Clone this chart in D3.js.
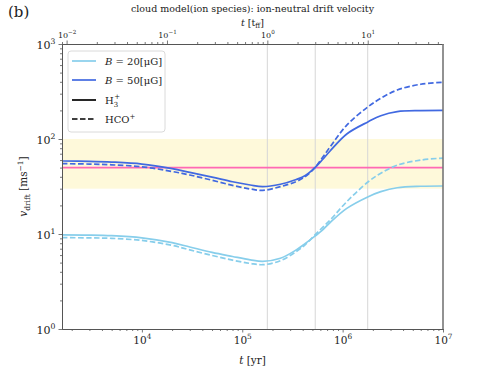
<!DOCTYPE html>
<html><head><meta charset="utf-8">
<script src="https://cdn.jsdelivr.net/npm/d3@7"></script>
<style>body{margin:0;background:#fff}svg{display:block}text{font-family:"DejaVu Serif",serif;fill:#222}</style>
</head><body><svg id="c" width="493" height="370"></svg>
<script>
// ---- data ----
const times  = [1.6e3, 3e3, 5e3, 1e4, 2e4, 3e4, 5e4, 8e4, 1.2e5, 1.6e5, 2.4e5, 3.45e5, 4.25e5, 5.3e5, 6.25e5, 7.5e5, 1.1e6, 1.8e6, 2.4e6, 3.5e6, 6e6, 1e7];
const b50H3  = [58.7, 58.2, 57.2, 54.5, 48.7, 44.5, 39.7, 35.5, 32.8, 31.5, 33.4, 37.5, 41.3, 50.0, 60.1, 74.8, 113, 152, 176, 194, 199, 200];
const b50HCO = [55.0, 54.5, 53.5, 51.0, 45.5, 41.8, 36.8, 32.5, 29.8, 28.8, 31.5, 35.7, 40.3, 50.0, 63.0, 82.4, 140, 219, 268, 328, 377, 395];
const b20H3  = [9.8, 9.75, 9.6, 9.1, 8.1, 7.3, 6.4, 5.8, 5.35, 5.15, 5.55, 6.8, 7.95, 9.5, 10.9, 13.2, 18.6, 24.7, 27.9, 30.7, 31.8, 32.0];
const b20HCO = [9.15, 9.1, 9.0, 8.55, 7.6, 6.8, 5.95, 5.3, 4.9, 4.75, 5.24, 6.54, 7.75, 9.77, 11.6, 14.0, 21.9, 35.5, 43.6, 53.0, 60.0, 63.0];
const tff = 1.778e5;            // free-fall time [yr]
const tffMarks = [1, 3, 10];    // vertical lines in units of t_ff
const band = [30, 100];
const refLine = 50;
const xDomain = [1.6e3, 1e7];
const yDomain = [1, 1000];
const xMajor = [1e4, 1e5, 1e6, 1e7];
const xMajorExp = ["4", "5", "6", "7"];
const topMajor = [1e-2, 1e-1, 1, 10];
const topMajorExp = ["\u22122", "\u22121", "0", "1"];
const yMajor = [1, 10, 100, 1000];
const yMajorExp = ["0", "1", "2", "3"];
const series = [
  {name:"B20", vals:b20H3, color:"#87ceeb", dash:null},
  {name:"B20", vals:b20HCO, color:"#87ceeb", dash:"5.5,2.5"},
  {name:"B50", vals:b50H3, color:"#4169e1", dash:null},
  {name:"B50", vals:b50HCO, color:"#4169e1", dash:"5.5,2.5"}
];

// ---- layout ----
const L=62, R=443, T=44, B=329;
const svg = d3.select("#c");
const x = d3.scaleLog().domain(xDomain).range([L,R]);
const xTop = d3.scaleLog().domain([xDomain[0]/tff, xDomain[1]/tff]).range([L,R]);
const y = d3.scaleLog().domain(yDomain).range([B,T]);

function minors(dom){
  const out=[];
  const lo=Math.floor(Math.log10(dom[0])), hi=Math.ceil(Math.log10(dom[1]));
  for(let e=lo;e<=hi;e++) for(let k=2;k<=9;k++){const v=k*Math.pow(10,e); if(v>=dom[0]&&v<=dom[1]) out.push(v);}
  return out;
}

// band & lines
svg.append("rect").attr("x",L).attr("width",R-L).attr("y",y(band[1])).attr("height",y(band[0])-y(band[1])).attr("fill","#fef9da");
svg.selectAll(".vl").data(tffMarks).enter().append("line")
  .attr("x1",d=>x(d*tff)).attr("x2",d=>x(d*tff)).attr("y1",T).attr("y2",B)
  .attr("stroke","#d6d6d6").attr("stroke-width",1);
svg.append("line").attr("x1",L).attr("x2",R).attr("y1",y(refLine)).attr("y2",y(refLine))
  .attr("stroke","#ff69b4").attr("stroke-width",1.8);

const line = d3.line().x((d,i)=>x(times[i])).y(d=>y(d)).curve(d3.curveCatmullRom.alpha(0.5));
series.forEach(s=>{
  svg.append("path").attr("d",line(s.vals)).attr("fill","none").attr("stroke",s.color)
    .attr("stroke-width",1.7).attr("stroke-dasharray",s.dash);
});

// axes
const axCol="#555";
function styleAxis(g){
  g.select(".domain").attr("stroke",axCol).attr("stroke-width",1);
  g.selectAll(".tick line").attr("stroke",axCol).attr("stroke-width",0.8);
}
function supLabels(g, exps, size, dy){
  g.selectAll(".tick text").each(function(d,i){
    const t=d3.select(this); t.text(null).attr("font-size",size).attr("fill","#222");
    t.append("tspan").text("10");
    t.append("tspan").attr("dy",dy).attr("font-size",size*0.7).text(exps[i]);
  });
}
// bottom
let g = svg.append("g").attr("transform",`translate(0,${B})`);
g.call(d3.axisBottom(x).tickValues(xMajor).tickSize(3.5).tickSizeOuter(0).tickPadding(4).tickFormat(()=>"x"));
supLabels(g, xMajorExp, 10.5, -5);
styleAxis(g);
let gm = svg.append("g").attr("transform",`translate(0,${B})`);
gm.call(d3.axisBottom(x).tickValues(minors(xDomain)).tickSize(2).tickSizeOuter(0).tickFormat(()=>""));
styleAxis(gm);
// top
g = svg.append("g").attr("transform",`translate(0,${T})`);
g.call(d3.axisTop(xTop).tickValues(topMajor).tickSize(3.5).tickSizeOuter(0).tickPadding(3).tickFormat(()=>"x"));
supLabels(g, topMajorExp, 8, -4);
styleAxis(g);
gm = svg.append("g").attr("transform",`translate(0,${T})`);
gm.call(d3.axisTop(xTop).tickValues(minors(xTop.domain())).tickSize(2).tickSizeOuter(0).tickFormat(()=>""));
styleAxis(gm);
// left
g = svg.append("g").attr("transform",`translate(${L},0)`);
g.call(d3.axisLeft(y).tickValues(yMajor).tickSize(3.5).tickSizeOuter(0).tickPadding(3).tickFormat(()=>"x"));
supLabels(g, yMajorExp, 11, -5);
g.selectAll(".tick text").attr("dy","0.45em");
styleAxis(g);
gm = svg.append("g").attr("transform",`translate(${L},0)`);
gm.call(d3.axisLeft(y).tickValues(minors(yDomain)).tickSize(2).tickSizeOuter(0).tickFormat(()=>""));
styleAxis(gm);
// right spine
svg.append("line").attr("x1",R).attr("x2",R).attr("y1",T).attr("y2",B).attr("stroke","#777").attr("stroke-width",1.6);

// texts
svg.append("text").attr("x",8).attr("y",17).attr("font-size",15).text("(b)");
svg.append("text").attr("x",(L+R)/2).attr("y",12).attr("text-anchor","middle").attr("font-size",9.5)
  .text("cloud model(ion species): ion-neutral drift velocity");
let tt = svg.append("text").attr("x",(L+R)/2).attr("y",26).attr("text-anchor","middle").attr("font-size",9.5);
tt.append("tspan").attr("font-style","italic").text("t");
tt.append("tspan").text(" [t");
tt.append("tspan").attr("font-size",7).attr("dy",2).text("ff");
tt.append("tspan").attr("dy",-2).text("]");
let xl = svg.append("text").attr("x",(L+R)/2).attr("y",364).attr("text-anchor","middle").attr("font-size",10.5);
xl.append("tspan").attr("font-style","italic").text("t");
xl.append("tspan").text(" [yr]");
let yl = svg.append("text").attr("transform",`translate(27,${(T+B)/2}) rotate(-90)`).attr("text-anchor","middle").attr("font-size",10.5);
yl.append("tspan").attr("font-style","italic").text("v");
yl.append("tspan").attr("font-size",7.5).attr("dy",2.5).text("drift");
yl.append("tspan").attr("dy",-2.5).text(" [ms");
yl.append("tspan").attr("font-size",7.5).attr("dy",-4).text("\u22121");
yl.append("tspan").attr("dy",4).text("]");

// legend
const lg = svg.append("g");
lg.append("rect").attr("x",68).attr("y",51).attr("width",97).attr("height",81).attr("rx",3)
  .attr("fill","#fff").attr("fill-opacity",0.85).attr("stroke","#d0d0d0").attr("stroke-width",0.8);
const legItems = [
  {color:"#87ceeb", dash:null, y:61},
  {color:"#4169e1", dash:null, y:80},
  {color:"#000", dash:null, y:100},
  {color:"#000", dash:"5.5,2.5", y:119}
];
legItems.forEach(d=>{
  lg.append("line").attr("x1",72).attr("x2",96).attr("y1",d.y).attr("y2",d.y)
    .attr("stroke",d.color).attr("stroke-width",1.7).attr("stroke-dasharray",d.dash);
});
function bText(yy, val){
  const t = lg.append("text").attr("x",105).attr("y",yy+3.5).attr("font-size",10);
  t.append("tspan").attr("font-style","italic").text("B");
  t.append("tspan").text(" = "+val+"[\u03bcG]");
}
bText(61,"20"); bText(80,"50");
let h3 = lg.append("text").attr("x",105).attr("y",103.5).attr("font-size",10);
h3.append("tspan").text("H");
h3.append("tspan").attr("font-size",7).attr("dy",3).text("3");
h3.append("tspan").attr("font-size",7).attr("dx",-3.9).attr("dy",-8).text("+");
let hco = lg.append("text").attr("x",105).attr("y",122.5).attr("font-size",10);
hco.append("tspan").text("HCO");
hco.append("tspan").attr("font-size",7).attr("dy",-4).text("+");
</script></body></html>
